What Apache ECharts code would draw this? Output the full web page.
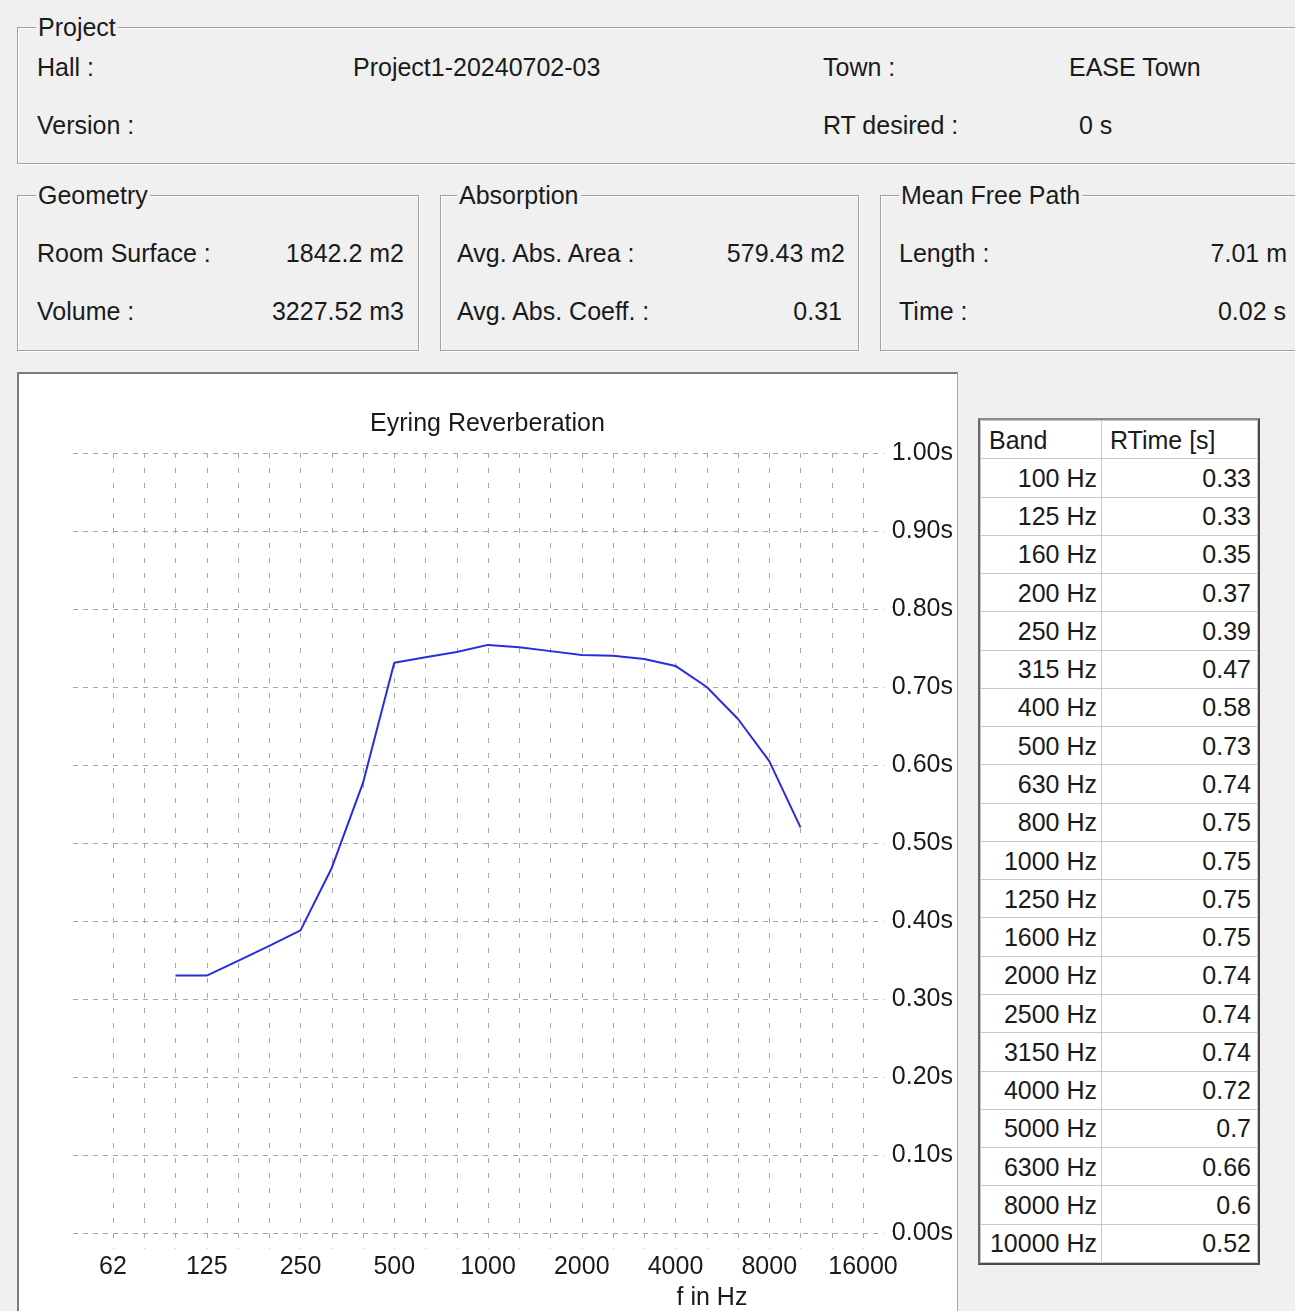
<!DOCTYPE html>
<html>
<head>
<meta charset="utf-8">
<script src="https://cdn.jsdelivr.net/npm/echarts@6/dist/echarts.min.js"></script>
<style>
  html, body { margin: 0; padding: 0; }
  body {
    width: 1295px; height: 1311px; overflow: hidden; position: relative;
    background: #f0f0f0; color: #1a1a1a;
    font-family: "Liberation Sans", Arial, sans-serif; font-size: 25px;
  }
  .box {
    position: absolute; box-sizing: border-box;
    border: 1px solid #a0a0a0;
    box-shadow: inset 1px 1px 0 #fff, 1px 1px 0 #fff;
  }
  .t { position: absolute; line-height: 30px; white-space: nowrap; }
  .lbl { position: absolute; line-height: 30px; white-space: nowrap; background: #f0f0f0; padding: 0 2px; }
  .r { text-align: right; }
  #plot {
    position: absolute; left: 17px; top: 372px; width: 941px; height: 960px;
    box-sizing: border-box; background: #fff;
    border-left: 2px solid #7c7c7c; border-top: 2px solid #7c7c7c; border-right: 1px solid #a8a8a8;
  }
  #chart { position: absolute; left: 19px; top: 374px; width: 937px; height: 937px; }
  #tbl {
    position: absolute; left: 978px; top: 418px; width: 282px; height: 847px;
    box-sizing: border-box; background: #fff;
    border: 2px solid #4a4a4a; border-top-color: #8a8a8a; border-left-color: #6a6a6a;
  }
  #tbl table { border-collapse: collapse; table-layout: fixed; width: 100%; height: 100%; }
  #tbl td { border: 1px solid #c8c8c8; padding: 0; line-height: 28px; overflow: hidden; white-space: nowrap; }
  #tbl td.b { text-align: right; padding-right: 4px; }
  #tbl td.v { text-align: right; padding-right: 6px; }
  #tbl td.h { text-align: left; padding-left: 8px; }
</style>
</head>
<body>

<!-- Project -->
<div class="box" style="left:17px; top:27px; width:1300px; height:137px;"></div>
<div class="lbl" style="left:36px; top:12px;">Project</div>
<div class="t" style="left:37px; top:52px;">Hall :</div>
<div class="t" style="left:353px; top:52px;">Project1-20240702-03</div>
<div class="t" style="left:823px; top:52px;">Town :</div>
<div class="t" style="left:1069px; top:52px;">EASE Town</div>
<div class="t" style="left:37px; top:110px;">Version :</div>
<div class="t" style="left:823px; top:110px;">RT desired :</div>
<div class="t" style="left:1079px; top:110px;">0 s</div>

<!-- Geometry -->
<div class="box" style="left:17px; top:195px; width:402px; height:156px;"></div>
<div class="lbl" style="left:36px; top:180px;">Geometry</div>
<div class="t" style="left:37px; top:238px;">Room Surface :</div>
<div class="t r" style="left:204px; width:200px; top:238px;">1842.2 m2</div>
<div class="t" style="left:37px; top:296px;">Volume :</div>
<div class="t r" style="left:204px; width:200px; top:296px;">3227.52 m3</div>

<!-- Absorption -->
<div class="box" style="left:440px; top:195px; width:419px; height:156px;"></div>
<div class="lbl" style="left:457px; top:180px;">Absorption</div>
<div class="t" style="left:457px; top:238px;">Avg. Abs. Area :</div>
<div class="t r" style="left:645px; width:200px; top:238px;">579.43 m2</div>
<div class="t" style="left:457px; top:296px;">Avg. Abs. Coeff. :</div>
<div class="t r" style="left:642px; width:200px; top:296px;">0.31</div>

<!-- Mean Free Path -->
<div class="box" style="left:880px; top:195px; width:430px; height:156px;"></div>
<div class="lbl" style="left:899px; top:180px;">Mean Free Path</div>
<div class="t" style="left:899px; top:238px;">Length :</div>
<div class="t r" style="left:1087px; width:200px; top:238px;">7.01 m</div>
<div class="t" style="left:899px; top:296px;">Time :</div>
<div class="t r" style="left:1086px; width:200px; top:296px;">0.02 s</div>

<div id="plot"></div>
<div id="chart"></div>
<div id="tbl"></div>

<script>
// third-octave positions on the frequency axis (label shown every third one)
const axisBands = ['62', '80', '100', '125', '160', '200', '250', '315', '400', '500', '630', '800',
  '1000', '1250', '1600', '2000', '2500', '3150', '4000', '5000', '6300', '8000', '10000', '12500', '16000']

// measured bands
const bands = ['100', '125', '160', '200', '250', '315', '400', '500', '630', '800', '1000',
  '1250', '1600', '2000', '2500', '3150', '4000', '5000', '6300', '8000', '10000']

// RTime [s] as printed in the table (rounded)
const rtime = [0.33, 0.33, 0.35, 0.37, 0.39, 0.47, 0.58, 0.73, 0.74, 0.75, 0.75,
  0.75, 0.75, 0.74, 0.74, 0.74, 0.72, 0.7, 0.66, 0.6, 0.52]

// RTime [s] (unrounded)
const rtCurve = [0.33, 0.33, 0.349, 0.368, 0.388, 0.468, 0.577, 0.731, 0.738, 0.745, 0.754,
  0.751, 0.746, 0.741, 0.74, 0.736, 0.727, 0.7, 0.659, 0.605, 0.52]

const FONT = '"Liberation Sans", Arial, sans-serif'
const gridColor = '#a6a6a6'

// RTime table
let rows = '<colgroup><col style="width:121px"><col></colgroup>'
rows += '<tr><td class="h">Band</td><td class="h">RTime [s]</td></tr>'
bands.forEach((b, i) => {
  rows += '<tr><td class="b">' + b + ' Hz</td><td class="v">' + rtime[i] + '</td></tr>'
})
document.getElementById('tbl').innerHTML = '<table>' + rows + '</table>'

const chart = echarts.init(document.getElementById('chart'))

chart.setOption({
  animation: false,
  textStyle: { fontFamily: FONT },
  title: {
    text: 'Eyring Reverberation',
    left: 'center',
    top: 33,
    textStyle: { fontSize: 25, fontWeight: 'normal', color: '#1a1a1a', fontFamily: FONT }
  },
  grid: [
    // wide grid: horizontal lines + y labels
    { left: 54, top: 79, width: 817, height: 780 },
    // narrow grid: frequency axis + curve
    { left: 94, top: 79, width: 750, height: 795.6 }
  ],
  xAxis: [
    { type: 'value', gridIndex: 0, show: false },
    {
      type: 'category',
      gridIndex: 1,
      data: axisBands,
      boundaryGap: false,
      axisLine: { show: false },
      axisTick: { show: false },
      axisLabel: { interval: 2, margin: 6, fontSize: 25, color: '#1a1a1a', fontFamily: FONT },
      splitLine: { show: true, interval: 0, lineStyle: { color: gridColor, type: [5, 10], width: 1 } }
    }
  ],
  yAxis: [
    {
      type: 'value',
      gridIndex: 0,
      position: 'right',
      min: 0,
      max: 1,
      interval: 0.1,
      axisLine: { show: false },
      axisTick: { show: false },
      axisLabel: {
        margin: 8,
        fontSize: 25,
        color: '#1a1a1a',
        fontFamily: FONT,
        formatter: v => v.toFixed(2) + 's'
      },
      splitLine: { show: true, lineStyle: { color: gridColor, type: [5, 5], width: 1 } }
    },
    { type: 'value', gridIndex: 1, min: -0.02, max: 1, show: false }
  ],
  graphic: [
    {
      type: 'text',
      x: 693,
      y: 924,
      style: {
        text: 'f in Hz',
        fontSize: 25,
        fontFamily: FONT,
        fill: '#1a1a1a',
        align: 'center',
        verticalAlign: 'middle'
      }
    }
  ],
  series: [
    {
      type: 'line',
      xAxisIndex: 1,
      yAxisIndex: 1,
      data: bands.map((b, i) => [b, rtCurve[i]]),
      symbol: 'none',
      lineStyle: { color: '#2b2be0', width: 2 }
    }
  ]
})
</script>
</body>
</html>
